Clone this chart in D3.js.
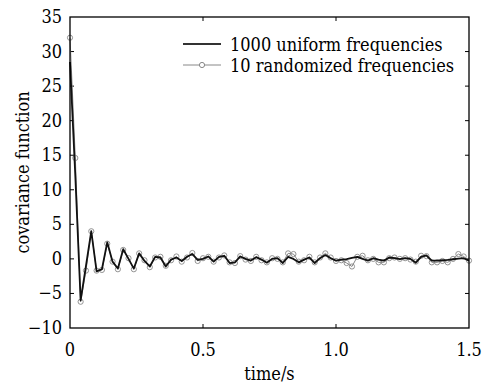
<!DOCTYPE html>
<html><head><meta charset="utf-8">
<script src="https://cdn.jsdelivr.net/npm/d3@7"></script>
<style>body{margin:0;background:#fff}svg{display:block}</style>
</head><body>
<svg id="c" width="486" height="385" font-family="'DejaVu Serif Condensed', 'DejaVu Serif', serif" font-stretch="condensed"></svg>
<script>
const dt = 0.02;
const uniform1000 = [28.5,12,-6.0,-1.0,4.0,-1.8,-1.5,2.4,-0.4,-1.4,1.4,0.0,-1.4,0.8,-0.3,-1.1,0.3,0.2,-1.1,-0.1,0.2,-0.3,0.3,0.7,-0.15,0.0,0.35,-0.4,0.3,0.45,-0.6,-0.5,0.35,0.0,-0.25,0.25,-0.1,-0.55,0.0,0.1,-0.6,0.3,0.0,-0.5,-0.1,0.2,-0.6,0.1,0.55,0.1,-0.25,-0.1,-0.05,0.15,0.3,0.0,-0.25,0.1,-0.1,-0.25,0.2,0.1,-0.05,0.1,0.0,-0.55,0.3,0.5,-0.25,-0.25,-0.2,-0.15,-0.05,0.05,0.1,-0.25];
const randomized10 = [32,14.6,-6.2,-1.7,4.0,-1.7,-1.6,2.2,-0.4,-1.5,1.3,0.1,-1.5,0.8,-0.2,-1.2,0.2,0.3,-1.0,-0.2,0.35,-0.4,0.2,0.85,-0.3,0.1,0.3,-0.4,0.2,0.5,-0.5,-0.6,0.4,-0.1,-0.3,0.3,-0.2,-0.5,0.1,0.0,-0.5,0.8,0.7,-0.4,-0.2,0.3,-0.5,0.2,0.8,0.2,-0.3,-0.2,-0.6,-1.1,0.3,0.45,-0.2,0.0,-0.5,-0.5,0.1,0.2,0.0,0.1,-0.1,-0.4,0.45,0.4,-0.5,-0.5,-0.3,-0.5,0.0,0.7,0.35,-0.25];
const xTicks = [0,0.5,1.0,1.5];
const xTickLabels = ["0","0.5","1.0","1.5"];
const yTicks = [-10,-5,0,5,10,15,20,25,30,35];
const seriesNames = ["1000 uniform frequencies","10 randomized frequencies"];

const svg = d3.select("#c");
const L=70,R=469,T=17,B=328;
const x = d3.scaleLinear().domain([0,1.5]).range([L,R]);
const y = d3.scaleLinear().domain([-10,35]).range([B,T]);
const fmtY = v => v<0 ? "\u2212"+Math.abs(v) : String(v);
const FS = 18;

const g = svg.append("g");
const tl = 4;
xTicks.slice(1,-1).forEach(t=>{
  g.append("line").attr("x1",x(t)).attr("x2",x(t)).attr("y1",B).attr("y2",B-tl).attr("stroke","#000");
  g.append("line").attr("x1",x(t)).attr("x2",x(t)).attr("y1",T).attr("y2",T+tl).attr("stroke","#000");
});
yTicks.slice(1,-1).forEach(t=>{
  g.append("line").attr("y1",y(t)).attr("y2",y(t)).attr("x1",L).attr("x2",L+tl).attr("stroke","#000");
  g.append("line").attr("y1",y(t)).attr("y2",y(t)).attr("x1",R).attr("x2",R-tl).attr("stroke","#000");
});
xTicks.forEach((t,i)=>{
  g.append("text").attr("x",x(t)).attr("y",B+28).attr("text-anchor","middle").attr("font-size",FS).text(xTickLabels[i]);
});
yTicks.forEach(t=>{
  g.append("text").attr("x",L-8).attr("y",y(t)+6).attr("text-anchor","end").attr("font-size",FS).text(fmtY(t));
});
g.append("text").attr("x",(L+R)/2).attr("y",380).attr("text-anchor","middle").attr("font-size",FS).text("time/s");
g.append("text").attr("transform","translate(29,"+((T+B)/2)+") rotate(-90)").attr("text-anchor","middle").attr("font-size",FS).text("covariance function");

const line = d3.line().x((d,i)=>x(i*dt)).y(d=>y(d));
svg.append("path").datum(randomized10).attr("d",line).attr("fill","none").attr("stroke","#888").attr("stroke-width",1);
svg.selectAll("circle.m").data(randomized10).join("circle").attr("class","m")
  .attr("cx",(d,i)=>x(i*dt)).attr("cy",d=>y(d)).attr("r",2.6).attr("fill","none").attr("stroke","#888").attr("stroke-width",0.9);
svg.append("path").datum(uniform1000).attr("d",line).attr("fill","none").attr("stroke","#111").attr("stroke-width",1.8).attr("stroke-linejoin","round");

svg.append("rect").attr("x",L).attr("y",T).attr("width",R-L).attr("height",B-T).attr("fill","none").attr("stroke","#000").attr("stroke-width",1.3);

const lg = svg.append("g");
lg.append("line").attr("x1",183).attr("x2",221).attr("y1",44).attr("y2",44).attr("stroke","#333").attr("stroke-width",2);
lg.append("line").attr("x1",183).attr("x2",221).attr("y1",65).attr("y2",65).attr("stroke","#888").attr("stroke-width",1);
lg.append("circle").attr("cx",202).attr("cy",65).attr("r",2.6).attr("fill","#fff").attr("stroke","#888");
lg.append("text").attr("x",230).attr("y",51).attr("font-size",FS).text(seriesNames[0]);
lg.append("text").attr("x",230).attr("y",72).attr("font-size",FS).text(seriesNames[1]);
</script>
</body></html>
